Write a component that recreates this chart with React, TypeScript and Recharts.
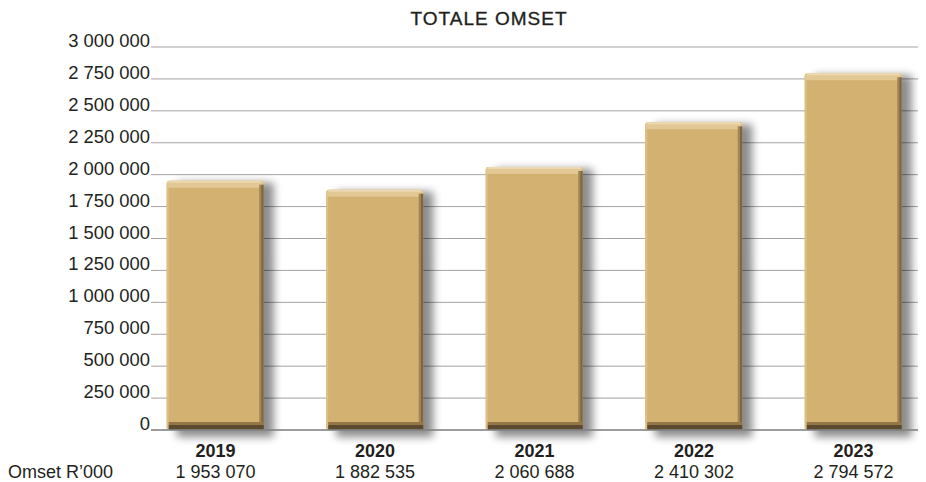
import { BarChart, Bar, XAxis, YAxis, CartesianGrid } from 'recharts'

const years = ['2019', '2020', '2021', '2022', '2023']
const omset = [1953070, 1882535, 2060688, 2410302, 2794572]
const yTicks = [0, 250000, 500000, 750000, 1000000, 1250000, 1500000, 1750000, 2000000, 2250000, 2500000, 2750000, 3000000]
const rowLabel = 'Omset R\u2019000'
const title = 'TOTALE OMSET'

const data = years.map((year, i) => ({ idx: i, year, omset: omset[i] }))

const FONT = '"Liberation Sans", Arial, Helvetica, sans-serif'
const INK = '#231f20'
const CHART_W = 926
const CHART_H = 482

const fmt = (n: number) => String(n).replace(/\B(?=(\d{3})+(?!\d))/g, ' ')

const YTick = (props: any) => {
  const { x, y, payload } = props
  return (
    <text x={x} y={y} textAnchor="end" fill={INK} fontSize={18.4} fontFamily={FONT}>
      {fmt(payload.value)}
    </text>
  )
}

const XTick = (props: any) => {
  const { x, y, payload } = props
  const i = payload.value
  return (
    <g fontFamily={FONT} fill={INK} fontSize={18} textAnchor="middle">
      <text x={x} y={y + 27} fontWeight="bold">{years[i]}</text>
      <text x={x} y={y + 48}>{fmt(omset[i])}</text>
    </g>
  )
}

const GoldBar = (props: any) => {
  const { x, y, width: w, height: h, index } = props
  if (!h || h <= 0) return null
  const id = `bar-shadow-${index}`
  return (
    <g>
      <defs>
        <filter id={id} x="-50%" y="-50%" width="200%" height="200%">
          <feGaussianBlur stdDeviation={4.5} />
        </filter>
      </defs>
      <rect x={x + 10} y={y + 2} width={w} height={h + 5} fill="#000" opacity={0.45} filter={`url(#${id})`} />
      <rect x={x} y={y} width={w} height={h} rx={3} fill="#d3b271" />
      <rect x={x} y={y + 3} width={2} height={h - 3} fill="#dcc08a" />
      <rect x={x} y={y} width={w} height={7} rx={3} fill="#e2c894" />
      <rect x={x + 2} y={y} width={w - 4} height={2} fill="#ecdab3" />
      <rect x={x + w - 4.5} y={y + 4} width={2} height={h - 4} fill="#a38656" />
      <rect x={x + w - 2.5} y={y + 4} width={2.5} height={h - 4} fill="#7e6640" />
      <rect x={x + 2} y={y + h - 8} width={w - 2} height={3} fill="#957747" />
      <rect x={x + 2} y={y + h - 5} width={w - 2} height={5} fill="#5b4a2f" />
    </g>
  )
}

export default function App() {
  return (
    <div style={{ position: 'relative', width: CHART_W, height: CHART_H, background: '#fff' }}>
      <style>{'html{overflow:hidden}'}</style>
      <div
        style={{
          position: 'absolute',
          top: 1,
          left: 481,
          transform: 'translateX(-50%)',
          fontFamily: FONT,
          fontSize: 19,
          lineHeight: '19px',
          letterSpacing: 1,
          color: INK,
          whiteSpace: 'nowrap',
          WebkitTextStroke: '0.35px #231f20',
        }}
      >
        {title}
      </div>
      <BarChart width={CHART_W} height={CHART_H} data={data} margin={{ top: 39, right: 0, bottom: 8, left: 0 }}>
        <CartesianGrid vertical={false} stroke="#a3a3a3" strokeWidth={1} />
        <YAxis
          type="number"
          domain={[0, 3000000]}
          ticks={yTicks}
          width={143}
          tickSize={0}
          tickMargin={1}
          axisLine={false}
          tickLine={false}
          tick={<YTick />}
          interval={0}
        />
        <XAxis
          type="number"
          dataKey="idx"
          domain={[-0.404, 4.505]}
          allowDataOverflow
          ticks={[0, 1, 2, 3, 4]}
          interval={0}
          height={52}
          tickSize={0}
          tickMargin={0}
          tickLine={false}
          axisLine={{ stroke: '#8a8a8a', strokeWidth: 1.5 }}
          tick={<XTick />}
          label={{
            content: (p: any) => (
              <text x={0} y={(p.viewBox?.y ?? 422) + 48} fill={INK} fontSize={18} fontFamily={FONT}>
                {rowLabel}
              </text>
            ),
          }}
        />
        <Bar dataKey="omset" barSize={97} shape={<GoldBar />} isAnimationActive={false} />
      </BarChart>
    </div>
  )
}
